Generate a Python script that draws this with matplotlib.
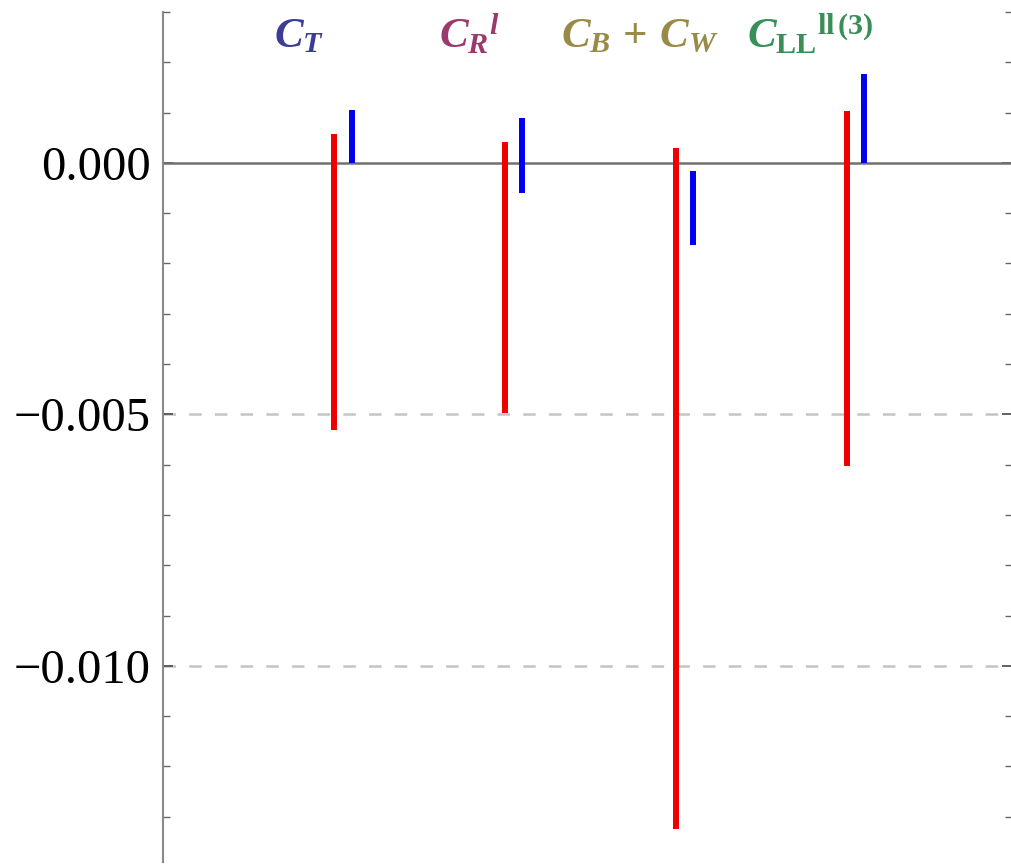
import numpy as np
import matplotlib
matplotlib.use("Agg")
import matplotlib.pyplot as plt
from matplotlib.ticker import MultipleLocator, FixedLocator, FuncFormatter

plt.rcParams['font.family'] = ['Liberation Serif', 'DejaVu Serif']
plt.rcParams['mathtext.fontset'] = 'custom'
plt.rcParams['mathtext.rm'] = 'Liberation Serif:bold'
plt.rcParams['mathtext.bf'] = 'Liberation Serif:bold'
plt.rcParams['mathtext.it'] = 'Liberation Serif:italic:bold'
plt.rcParams['lines.scale_dashes'] = False

# data
labels = [r'$C_T$', r'${C_R}^{l}$', r'$C_B\,+\,C_W$', r'${C_{\mathrm{LL}}}^{\mathrm{ll\,(3)}}$']
label_colors = ['#3c3c96', '#9a3a6c', '#9a8a48', '#3a8e58']
positions = [1, 2, 3, 4]
red_lo = [-0.00531, -0.00497, -0.01324, -0.00602]
red_hi = [0.00058, 0.00042, 0.00029, 0.00103]
blue_lo = [0.0, -0.00059, -0.00163, 0.0]
blue_hi = [0.00105, 0.00089, -0.00016, 0.00177]
major_ticks = [0.0, -0.005, -0.010]

offset = 0.05

fig = plt.figure(figsize=(10.12, 8.65), dpi=100)
ax = fig.add_axes([163/1012, 3/865, 1 - 163/1012, 1 - 15/865])

x = np.array(positions)
ax.vlines(x - offset, red_lo, red_hi, colors='#ee0000', lw=4.3, zorder=3)
ax.vlines(x + offset, blue_lo, blue_hi, colors='#0000ee', lw=4.3, zorder=3)

# reference lines
ax.axhline(0, color='#707070', lw=1.8, zorder=2)
for yv in major_ticks[1:]:
    ax.axhline(yv, color='#c4c4c4', lw=1.8, dashes=(9, 9.5), zorder=1)

for xi, lab, col in zip(positions, labels, label_colors):
    ax.text(xi - 0.26, 0.0023, lab, color=col, fontsize=31,
            ha='center', va='baseline')

ax.set_xlim(-0.0545, 4.919)
ax.set_ylim(-0.0139, 0.0030)

ax.yaxis.set_major_locator(FixedLocator(major_ticks))
ax.yaxis.set_minor_locator(MultipleLocator(0.001))
ax.yaxis.set_major_formatter(FuncFormatter(lambda v, p: ('%.3f' % v).replace('-', '\u2212')))
ax.tick_params(axis='y', which='major', direction='in', length=7, width=1.3,
               color='#555555', labelsize=35, pad=9, right=True)
ax.tick_params(axis='y', which='minor', direction='in', length=5, width=1.0,
               color='#666666', right=True)
ax.tick_params(axis='y', labelright=False)
ax.set_xticks([])

for side in ['top', 'bottom', 'right']:
    ax.spines[side].set_visible(False)
ax.spines['left'].set_color('#8a8a8a')
ax.spines['left'].set_linewidth(1.5)

fig.savefig('out.png', dpi=100)
